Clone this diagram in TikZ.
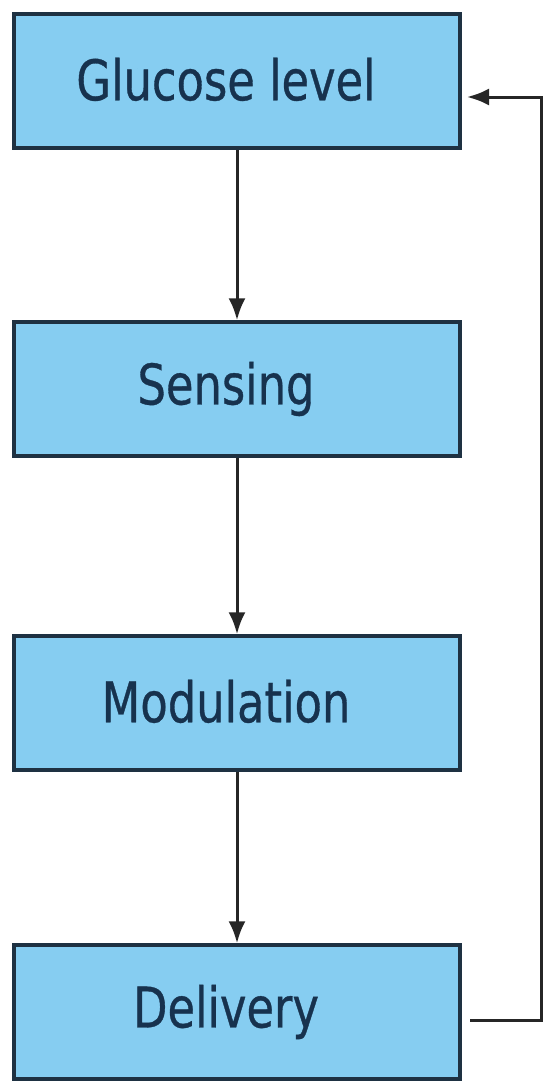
\documentclass[tikz,border=0pt]{standalone}
\usepackage{fontspec}
\setmainfont{DejaVu Sans}[FakeStretch=0.8,FakeBold=0.6]
\usetikzlibrary{arrows.meta}
\definecolor{boxfill}{HTML}{86CDF1}
\definecolor{boxline}{HTML}{1E3142}
\definecolor{txt}{HTML}{17324E}
\newcommand{\boxtext}[1]{\raisebox{4pt}{#1}\hspace*{22pt}}
\begin{document}
\begin{tikzpicture}[x=1pt,y=-1pt,
  stepbox/.style={draw=boxline,line width=3.5pt,fill=boxfill,minimum width=446pt,minimum height=134pt,inner sep=0pt,font=\fontsize{56}{60}\selectfont,text=txt},
  conn/.style={draw=black!85,line width=3pt,-{Latex[length=22pt,width=17pt]}}]
\useasboundingbox (0,0) rectangle (544,1081);
\node[stepbox] (g) at (237,81) {\boxtext{Glucose level}};
\node[stepbox] (s) at (237,389) {\boxtext{Sensing}};
\node[stepbox] (m) at (237,703) {\boxtext{Modulation}};
\node[stepbox] (d) at (237,1012) {\boxtext{Delivery}};
\draw[conn] (g.south) -- (s.north);
\draw[conn] (s.south) -- (m.north);
\draw[conn] (m.south) -- (d.north);
\coordinate (a) at (470,1020);
\coordinate (b) at (541,1020);
\coordinate (c) at (541,97);
\coordinate (e) at (467,97);
\draw[conn] (a) -- (b) -- (c) -- (e);
\end{tikzpicture}
\end{document}
